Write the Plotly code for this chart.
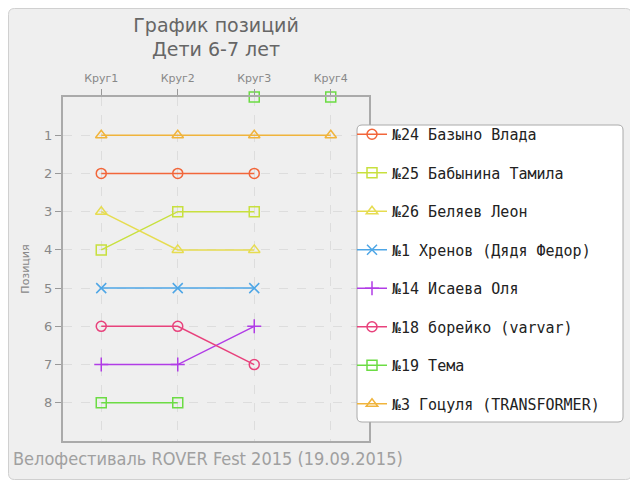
import plotly.graph_objects as go

laps = ["Круг1", "Круг2", "Круг3", "Круг4"]
riders = ["№24 Базыно Влада", "№25 Бабынина Тамила", "№26 Беляев Леон",
          "№1 Хренов (Дядя Федор)", "№14 Исаева Оля", "№18 борейко (varvar)",
          "№19 Тема", "№3 Гоцуля (TRANSFORMER)"]
pos_24 = [2, 2, 2, None]
pos_25 = [4, 3, 3, None]
pos_26 = [3, 4, 4, None]
pos_1 = [5, 5, 5, None]
pos_14 = [7, 7, 6, None]
pos_18 = [6, 6, 7, None]
pos_19 = [8, 8, 0, 0]
pos_3 = [1, 1, 1, 1]
positions = [pos_24, pos_25, pos_26, pos_1, pos_14, pos_18, pos_19, pos_3]

colors = ["#f2663a", "#c8e03e", "#e6dc50", "#4ea6e6", "#b13ce6", "#e8427c", "#6cdc44", "#f0b43c"]
symbols = ["circle-open", "square-open", "triangle-up-open", "x-thin-open",
           "cross-thin-open", "circle-open", "square-open", "triangle-up-open"]

OFF = 8  # page body margin
W, H = 638 - OFF, 484 - OFF
L, R, T, B = 63 - OFF, 369 - OFF, 97 - OFF, 441 - OFF

def px(x):
    return (x - OFF - L) / (R - L)

def py(y):
    return (B - (y - OFF)) / (B - T)

def rrect(x0, y0, x1, y1, r):
    return (f"M {px(x0+r)},{py(y0)} L {px(x1-r)},{py(y0)} Q {px(x1)},{py(y0)} {px(x1)},{py(y0+r)} "
            f"L {px(x1)},{py(y1-r)} Q {px(x1)},{py(y1)} {px(x1-r)},{py(y1)} "
            f"L {px(x0+r)},{py(y1)} Q {px(x0)},{py(y1)} {px(x0)},{py(y1-r)} "
            f"L {px(x0)},{py(y0+r)} Q {px(x0)},{py(y0)} {px(x0+r)},{py(y0)} Z")

fig = go.Figure()
for i, (name, ys) in enumerate(zip(riders, positions)):
    line_y = [v if v != 0 else None for v in ys]
    mk = dict(symbol=symbols[i], size=10, color=colors[i], line=dict(width=1.5, color=colors[i]))
    fig.add_trace(go.Scatter(
        x=laps, y=line_y, name=name, mode="lines+markers",
        line=dict(color=colors[i], width=1.5), marker=mk,
        legendgroup=name, cliponaxis=False,
    ))
    zx = [laps[j] for j, v in enumerate(ys) if v == 0]
    if zx:
        fig.add_trace(go.Scatter(
            x=zx, y=[0] * len(zx), mode="markers", showlegend=False, legendgroup=name,
            marker=mk, cliponaxis=False,
        ))

shapes = [
    dict(type="path", xref="paper", yref="paper", path=rrect(8.5, 8.5, 631.5, 479.5, 6),
         fillcolor="#efefef", line=dict(color="#d0d0d0", width=1), layer="below"),
    dict(type="path", xref="paper", yref="paper", path=rrect(357, 125, 623, 422, 5),
         fillcolor="white", line=dict(color="#aaaaaa", width=1), layer="above"),
]

fig.update_layout(
    width=W, height=H,
    margin=dict(l=L, r=W - R, t=T, b=H - B, autoexpand=False),
    paper_bgcolor="white", plot_bgcolor="white",
    font=dict(family="DejaVu Sans", color="#777"),
    title=dict(text="График позиций<br>Дети 6-7 лет", x=0.5, xref="paper", xanchor="center",
               y=1 - (31.5 - OFF) / H, yanchor="middle",
               font=dict(size=19, color="#666", family="DejaVu Sans")),
    xaxis=dict(side="top", type="category", range=[-0.5, 3.5], showgrid=True, gridcolor="#dddddd",
               griddash="dash", ticks="outside", ticklen=6, tickcolor="#999",
               tickfont=dict(size=11, color="#888"), ticklabelstandoff=3, showline=True,
               linecolor="#aaaaaa", linewidth=2, mirror=True, zeroline=False),
    yaxis=dict(range=[9, 0], tickvals=[1, 2, 3, 4, 5, 6, 7, 8], showgrid=True, gridcolor="#dddddd",
               griddash="dash", ticks="outside", ticklen=6, tickcolor="#999",
               tickfont=dict(size=13, color="#888"), showline=True, linecolor="#aaaaaa",
               linewidth=2, mirror=True, zeroline=False,
               title=dict(text="Позиция", font=dict(size=11, color="#888"), standoff=12)),
    legend=dict(x=px(352), y=py(118), xanchor="left", yanchor="top", bgcolor="rgba(0,0,0,0)",
                borderwidth=0, tracegroupgap=16, itemwidth=30,
                font=dict(size=15, color="#222", family="DejaVu Sans Mono")),
    shapes=shapes,
    annotations=[dict(text="Велофестиваль ROVER Fest 2015 (19.09.2015)", xref="paper", yref="paper",
                      x=px(11), y=py(458), xanchor="left", yanchor="middle", showarrow=False,
                      font=dict(size=18, color="#a0a0a0", family="DejaVu Sans Condensed"))],
)

fig.write_html("out.html")
